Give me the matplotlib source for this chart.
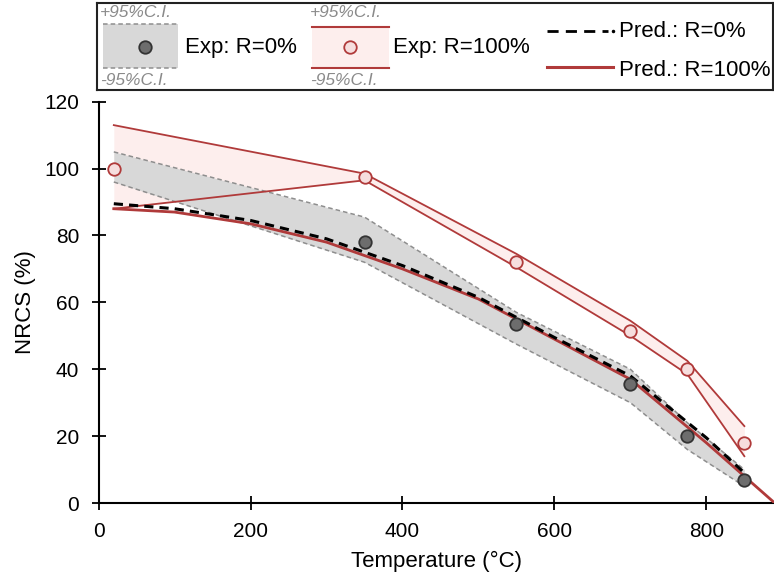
import numpy as np
import matplotlib.pyplot as plt
from matplotlib.patches import Rectangle

plt.rcParams['font.family'] = ['Liberation Sans', 'DejaVu Sans']

# experimental NRCS, R=0% and R=100%
temp_r0 = [350, 550, 700, 775, 850]
nrcs_r0 = [78, 53.5, 35.5, 20, 7]
temp_r100 = [20, 350, 550, 700, 775, 850]
nrcs_r100 = [100, 97.5, 72, 51.5, 40, 18]

# 95% confidence bounds
ci_temp_r0 = [20, 350, 550, 700, 775, 850]
ci_up_r0 = [105, 85.5, 57, 40, 24, 10]
ci_lo_r0 = [96, 72, 47.5, 30, 16, 5]
ci_temp_r100 = [20, 350, 550, 700, 775, 850]
ci_up_r100 = [113, 98.5, 74.5, 54.5, 42.5, 23]
ci_lo_r100 = [88, 96.5, 70.5, 50, 38.5, 14]

# model predictions
pred_temp = [20, 100, 200, 300, 400, 500, 600, 700, 800, 850]
pred_r0 = [89.5, 88, 84.5, 79, 71, 61.5, 49.5, 38, 19.5, 9]
pred_temp_r100 = [20, 100, 200, 300, 400, 500, 600, 700, 800, 850, 890]
pred_r100 = [88, 87, 83.5, 78, 70, 61, 49, 37, 18, 8, 0]

red = '#b03a3a'
grey_edge = '#8e8e8e'
FS = 16

fig = plt.figure(figsize=(7.74, 5.77), dpi=100)
ax = fig.add_axes([0.1274, 0.1282, 0.8726, 0.6955])

ax.fill_between(ci_temp_r100, ci_lo_r100, ci_up_r100, color='#fdeeed', lw=0, zorder=1)
ax.fill_between(ci_temp_r0, ci_lo_r0, ci_up_r0, color='#d8d8d8', lw=0, zorder=2)
ax.plot(ci_temp_r0, ci_up_r0, '--', color=grey_edge, lw=1.1, dashes=(3, 2), zorder=3)
ax.plot(ci_temp_r0, ci_lo_r0, '--', color=grey_edge, lw=1.1, dashes=(3, 2), zorder=3)
ax.plot(ci_temp_r100, ci_up_r100, '-', color=red, lw=1.3, zorder=3)
ax.plot(ci_temp_r100, ci_lo_r100, '-', color=red, lw=1.3, zorder=3)

ax.plot(pred_temp_r100, pred_r100, '-', color=red, lw=2.0, zorder=4)
ax.plot(pred_temp, pred_r0, '--', color='black', lw=2.2, dashes=(3, 2), zorder=5)

ax.plot(temp_r0, nrcs_r0, 'o', ms=9, mfc='#6d6d6d', mec='#333333', mew=1.3, zorder=6)
ax.plot(temp_r100, nrcs_r100, 'o', ms=9, mfc='#f6dede', mec=red, mew=1.3, zorder=6)

ax.set_xlim(0, 889)
ax.set_ylim(0, 120)
ax.set_xticks([0, 200, 400, 600, 800])
ax.set_yticks(range(0, 121, 20))
ax.spines['top'].set_visible(False)
ax.spines['right'].set_visible(False)
for s in ('left', 'bottom'):
    ax.spines[s].set_linewidth(1.5)
ax.tick_params(direction='inout', length=10, width=1.3, labelsize=15, pad=9)
ax.set_xlabel('Temperature (°C)', fontsize=FS, labelpad=7)
ax.set_ylabel('NRCS (%)', fontsize=FS, labelpad=6)

# legend panel, laid out in pixel units
lg = fig.add_axes([0.1253, 0.844, 0.8735, 0.1508])
lg.set_xlim(97, 773)
lg.set_ylim(90, 3)
lg.set_xticks([])
lg.set_yticks([])
for s in lg.spines.values():
    s.set_linewidth(1.5)
    s.set_color('#222222')

lg.add_patch(Rectangle((103, 24), 75, 44, color='#d8d8d8', lw=0))
lg.plot([103, 178], [24, 24], '--', color=grey_edge, lw=1.1, dashes=(3, 2))
lg.plot([103, 178], [68, 68], '--', color=grey_edge, lw=1.1, dashes=(3, 2))
lg.plot(145, 47, 'o', ms=9, mfc='#6d6d6d', mec='#333333', mew=1.3)
lg.text(185, 47, 'Exp: R=0%', fontsize=FS, va='center')

lg.add_patch(Rectangle((312, 27), 77, 41, color='#fdeeed', lw=0))
lg.plot([312, 389], [27, 27], '-', color=red, lw=1.5)
lg.plot([312, 389], [68, 68], '-', color=red, lw=1.5)
lg.plot(350, 47, 'o', ms=9, mfc='#f6dede', mec=red, mew=1.3)
lg.text(393, 47, 'Exp: R=100%', fontsize=FS, va='center')

for x0 in (100, 310):
    lg.text(x0, 12, '+95%C.I.', fontsize=12.5, style='italic', color='#8a8a8a', va='center')
    lg.text(x0, 80, '-95%C.I.', fontsize=12.5, style='italic', color='#8a8a8a', va='center')

lg.plot([547, 608], [31, 31], '-', color='black', lw=2.0, dashes=(4, 2.6))
lg.plot(613, 31, '.', color='black', ms=3)
lg.text(619, 31, 'Pred.: R=0%', fontsize=FS, va='center')
lg.plot([547, 613], [67, 67], '-', color=red, lw=2.2)
lg.text(619, 70, 'Pred.: R=100%', fontsize=FS, va='center')

fig.savefig('out.png', dpi=100)
